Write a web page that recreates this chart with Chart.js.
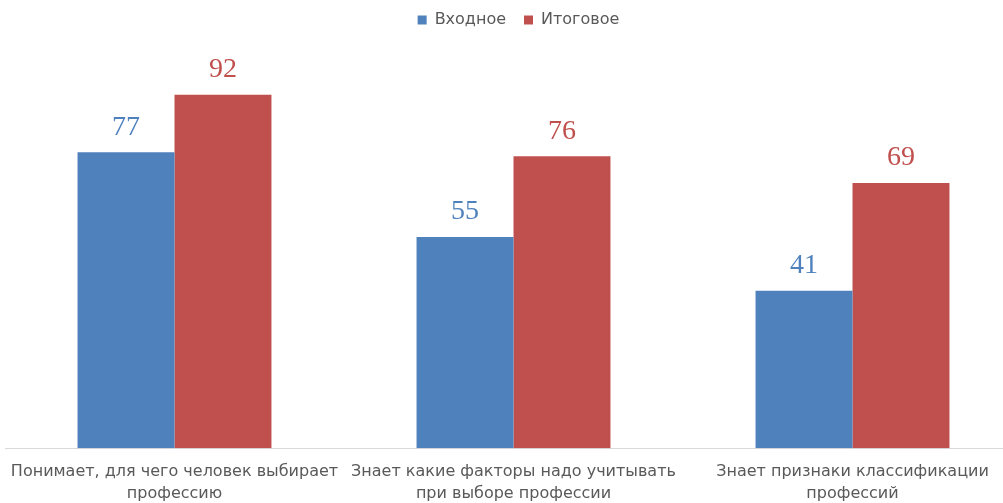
<!DOCTYPE html>
<html>
<head>
<meta charset="utf-8">
<script src="https://cdn.jsdelivr.net/npm/chart.js@4.4.1/dist/chart.umd.min.js"></script>
<style>
  html, body { margin: 0; padding: 0; background: #fff; overflow: hidden; }
  #wrap { position: absolute; left: 0; top: 0; width: 1036px; height: 509px; }
</style>
</head>
<body>
<div id="wrap"><canvas id="barChart"></canvas></div>
<script>
// Входное vs Итоговое - grouped bars
const categories = [
    ['Понимает, для чего человек выбирает', 'профессию'],
    ['Знает какие факторы надо учитывать', 'при выборе профессии'],
    ['Знает признаки классификации', 'профессий']
];
const seriesNames = ['Входное', 'Итоговое'];
const entryValues = [77, 55, 41];
const finalValues = [92, 76, 69];
const seriesColors = ['#4F81BD', '#C0504D'];

const valueLabels = {
    id: 'valueLabels',
    afterDatasetsDraw(c) {
        const ctx = c.ctx;
        ctx.save();
        ctx.font = '28px "Liberation Serif", serif';
        ctx.textAlign = 'center';
        ctx.textBaseline = 'middle';
        c.data.datasets.forEach((ds, i) => {
            ctx.fillStyle = seriesColors[i];
            c.getDatasetMeta(i).data.forEach((bar, j) => {
                ctx.fillText(ds.data[j], bar.x, bar.y - 25);
            });
        });
        ctx.restore();
    }
};

// fixed legend block height and a small nudge of the legend items
const legendBox = {
    id: 'legendBox',
    beforeInit(c) {
        const lg = c.legend;
        const fit = lg.fit;
        const draw = lg.draw;
        lg.fit = function () {
            fit.call(lg);
            this.height = 62;
        };
        lg.draw = function () {
            const ctx = c.ctx;
            ctx.save();
            ctx.translate(5, -8);
            draw.call(lg);
            ctx.restore();
        };
    }
};

new Chart(document.getElementById('barChart').getContext('2d'), {
    type: 'bar',
    data: {
        labels: categories,
        datasets: [
            { label: seriesNames[0], data: entryValues, backgroundColor: seriesColors[0] },
            { label: seriesNames[1], data: finalValues, backgroundColor: seriesColors[1] }
        ]
    },
    options: {
        responsive: true,
        maintainAspectRatio: false,
        animation: false,
        datasets: { bar: { barPercentage: 1, categoryPercentage: 0.572 } },
        layout: { padding: { left: 5, right: 14, top: 2, bottom: 0 } },
        plugins: {
            legend: {
                position: 'top',
                labels: {
                    boxWidth: 9, boxHeight: 9, padding: 18,
                    color: '#595959',
                    font: { family: '"DejaVu Sans", sans-serif', size: 16 }
                }
            },
            tooltip: { enabled: false }
        },
        scales: {
            x: {
                grid: { display: false },
                border: { display: true, color: '#d9d9d9', width: 1 },
                ticks: {
                    color: '#595959',
                    padding: 4,
                    maxRotation: 0,
                    autoSkip: false,
                    font: { family: '"DejaVu Sans", sans-serif', size: 16, lineHeight: 1.4 }
                }
            },
            y: { display: false, min: 0, max: 100 }
        }
    },
    plugins: [valueLabels, legendBox]
});
</script>
</body>
</html>
